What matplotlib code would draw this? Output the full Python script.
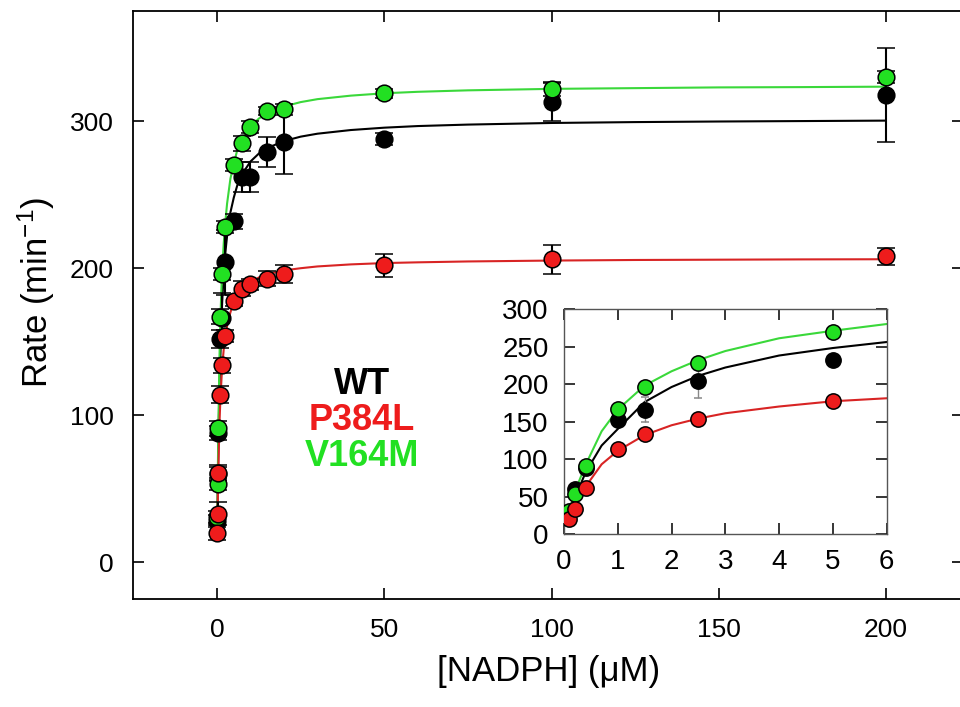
import numpy as np
import matplotlib
matplotlib.use("Agg")
import matplotlib.pyplot as plt

plt.rcParams['font.family'] = ['Liberation Sans', 'DejaVu Sans']
plt.rcParams['mathtext.fontset'] = 'custom'
plt.rcParams['mathtext.rm'] = 'Liberation Sans'
plt.rcParams['mathtext.default'] = 'regular'

# datos
conc = [0.1, 0.2, 0.4, 1, 1.5, 2.5, 5, 7.5, 10, 15, 20, 50, 100, 200]
wt = [28, 60, 88, 152, 166, 204, 232, 262, 262, 279, 286, 288, 313, 318]
wt_err = [4, 5, 5, 6, 17, 22, 5, 10, 10, 10, 22, 4, 13, 32]
p384l = [20, 33, 61, 114, 134, 154, 178, 186, 189, 193, 196, 202, 206, 208]
p384l_err = [5, 8, 5, 6, 5, 4, 4, 5, 4, 5, 6, 8, 10, 6]
v164m = [31, 53, 91, 167, 196, 228, 270, 285, 296, 307, 308, 319, 322, 330]
v164m_err = [4, 4, 5, 5, 4, 4, 4, 5, 4, 3, 4, 3, 5, 4]

# curvas de ajuste
fit_x = [0.1, 0.2, 0.4, 0.7, 1, 1.5, 2, 2.5, 3, 4, 5, 6, 7.5, 10, 12.5, 15, 20, 25, 30,
         40, 50, 60, 75, 100, 125, 150, 175, 200]
fit_wt = [26, 47, 82, 118, 140, 176, 196, 211, 222, 238, 248, 256, 264, 272.6, 278, 281.7,
          286.5, 289.5, 291.5, 294, 295.6, 296.7, 297.7, 298.8, 299.4, 299.8, 300.1, 300.4]
fit_p384l = [21, 39, 63, 93, 111, 132, 145, 154, 161, 170, 177, 181, 185.7, 190.6, 193.7,
             195.8, 198.5, 200, 201.2, 202.6, 203.5, 204, 204.6, 205.2, 205.6, 205.8, 206, 206.1]
fit_v164m = [31, 56, 92, 137, 166, 198, 217, 232, 244, 261, 271, 280, 288, 296.5, 301.8,
             305.5, 310, 313, 315, 317.4, 319, 320, 321, 322, 322.5, 323, 323.2, 323.5]

series = [
    ("WT", wt, wt_err, fit_wt, "black", "black"),
    ("V164M", v164m, v164m_err, fit_v164m, "#22e022", "#3ad83a"),
    ("P384L", p384l, p384l_err, fit_p384l, "#ee1c1c", "#d82424"),
]

fig = plt.figure(figsize=(9.6, 7.07), dpi=100)
ax = fig.add_axes([0.139, 0.1528, 0.864, 0.8317])

for name, y, err, fit, col, lcol in series:
    ax.plot(fit_x, fit, color=lcol, lw=1.5, zorder=2)
for name, y, err, fit, col, lcol in series:
    ax.errorbar(conc, y, yerr=err, fmt='o', ms=12, mfc=col, mec='black', mew=1.1,
                ecolor='black', elinewidth=1.5, capsize=6.5, capthick=1.5, zorder=3)

ax.set_xlim(-25, 223)
ax.set_ylim(-25, 375)
ax.set_xticks([0, 50, 100, 150, 200])
ax.set_yticks([0, 100, 200, 300])
ax.tick_params(direction='in', length=8, width=1.2, labelsize=19, pad=14,
               top=True, right=True)
for s in ax.spines.values():
    s.set_linewidth(1.3)

ax.set_xlabel(u"[NADPH] (\u03bcM)", fontsize=25)
ax.set_ylabel(r"Rate (min$^{-1}$)", fontsize=25)
ax.xaxis.set_label_coords(0.5, -0.095)
ax.yaxis.set_label_coords(-0.092, 0.521)

# leyenda como texto
ax.text(362 / 960, 1 - 385 / 707, "WT", transform=fig.transFigure, ha='center', va='center',
        fontsize=26, fontweight='bold', color='black')
ax.text(362 / 960, 1 - 421 / 707, "P384L", transform=fig.transFigure, ha='center', va='center',
        fontsize=26, fontweight='bold', color='#ee1c1c')
ax.text(362 / 960, 1 - 457 / 707, "V164M", transform=fig.transFigure, ha='center', va='center',
        fontsize=26, fontweight='bold', color='#22e022')

# grafica pequeña
ins = fig.add_axes([0.5875, 0.2447, 0.3361, 0.3182])
for name, y, err, fit, col, lcol in series:
    ins.plot(fit_x, fit, color=lcol, lw=1.5, zorder=2)
for name, y, err, fit, col, lcol in series:
    ins.errorbar(conc, y, yerr=err, fmt='o', ms=11, mfc=col, mec='black', mew=1.1,
                 ecolor='#888888', elinewidth=1, capsize=3, capthick=1, zorder=3)
ins.set_xlim(0, 6)
ins.set_ylim(0, 300)
ins.set_xticks(range(7))
ins.set_yticks(range(0, 301, 50))
ins.tick_params(direction='in', length=8, width=1.1, labelsize=20, pad=11,
                top=True, right=True)
for s in ins.spines.values():
    s.set_color('#555555')
    s.set_linewidth(1.0)

fig.savefig("out.png", dpi=100)
